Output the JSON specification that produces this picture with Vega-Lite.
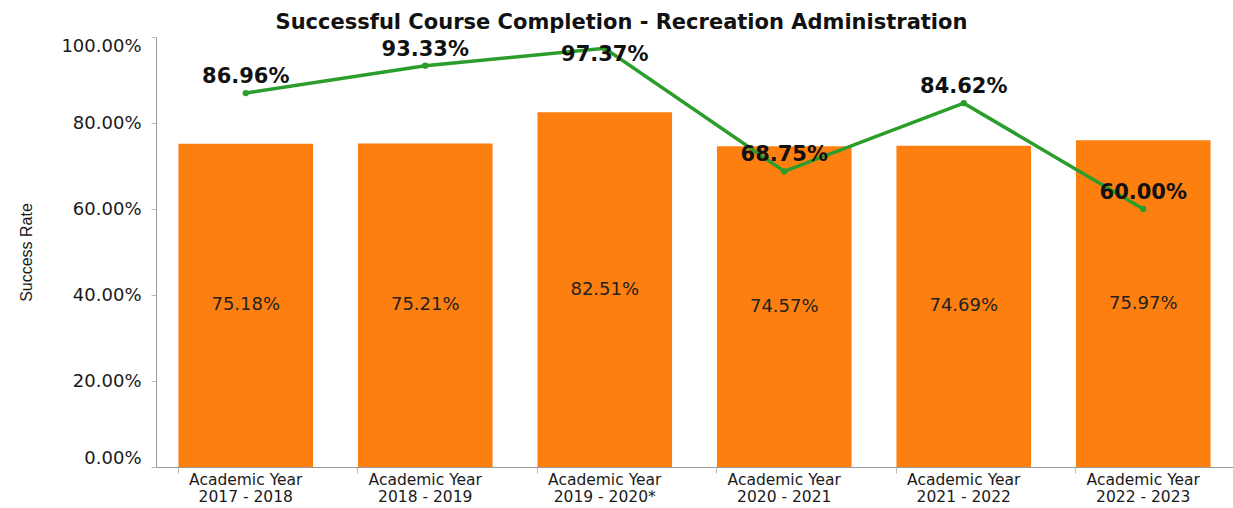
{
  "$schema": "https://vega.github.io/schema/vega-lite/v6.json",
  "autosize": "none",
  "width": 1077,
  "height": 430,
  "padding": {"left": 156, "top": 37, "right": 0, "bottom": 41},
  "background": "white",
  "config": {
    "font": "DejaVu Sans",
    "view": {"stroke": null}
  },
  "title": {
    "text": "Successful Course Completion - Recreation Administration",
    "font": "DejaVu Sans",
    "fontSize": 21,
    "fontWeight": "bold",
    "color": "#111111",
    "anchor": "middle",
    "dx": -73,
    "offset": 4
  },
  "data": {
    "values": [
      {"year": "Academic Year|2017 - 2018", "overall": 0.7518, "program": 0.8696},
      {"year": "Academic Year|2018 - 2019", "overall": 0.7521, "program": 0.9333},
      {"year": "Academic Year|2019 - 2020*", "overall": 0.8251, "program": 0.9737},
      {"year": "Academic Year|2020 - 2021", "overall": 0.7457, "program": 0.6875},
      {"year": "Academic Year|2021 - 2022", "overall": 0.7469, "program": 0.8462},
      {"year": "Academic Year|2022 - 2023", "overall": 0.7597, "program": 0.60}
    ]
  },
  "encoding": {
    "x": {
      "field": "year",
      "type": "nominal",
      "sort": null,
      "scale": {"paddingInner": 0.25, "paddingOuter": 0.125},
      "axis": {
        "title": null,
        "labelAngle": 0,
        "labelExpr": "split(datum.label, '|')",
        "labelFont": "DejaVu Sans",
        "labelFontSize": 15.5,
        "labelColor": "#1a1a1a",
        "labelLineHeight": 17,
        "labelPadding": -1,
        "bandPosition": 0,
        "ticks": true,
        "tickSize": 6,
        "tickColor": "#bbbbbb",
        "domainColor": "#999999",
        "labelBaseline": "top"
      }
    }
  },
  "layer": [
    {
      "mark": {"type": "bar", "color": "#fd7f10"},
      "encoding": {
        "y": {
          "field": "overall",
          "type": "quantitative",
          "scale": {"domain": [0, 1], "nice": false},
          "axis": {
            "title": "Success Rate",
            "titleFont": "Liberation Sans",
            "titleFontWeight": "normal",
            "titleFontSize": 16,
            "titleColor": "#1a1a1a",
            "titleX": -130,
            "titleY": 215,
            "titleAngle": -90,
            "titleAlign": "center",
            "titleBaseline": "middle",
            "values": [0, 0.2, 0.4, 0.6, 0.8, 1],
            "format": ".2%",
            "labelFont": "DejaVu Sans",
            "labelFontSize": 18,
            "labelColor": "#1a1a1a",
            "labelFlush": true,
            "labelPadding": 10,
            "tickSize": 5,
            "tickColor": "#bbbbbb",
            "domainColor": "#999999",
            "grid": false
          }
        }
      }
    },
    {
      "mark": {"type": "text", "fontSize": 18, "color": "#222222", "baseline": "middle"},
      "encoding": {
        "y": {"field": "overall", "type": "quantitative", "stack": "zero", "bandPosition": 0.5},
        "text": {"field": "overall", "type": "quantitative", "format": ".2%"}
      }
    },
    {
      "mark": {"type": "line", "color": "#2a9d2a", "strokeWidth": 3.5},
      "encoding": {
        "y": {"field": "program", "type": "quantitative"}
      }
    },
    {
      "mark": {"type": "point", "filled": true, "color": "#2a9d2a", "size": 40, "opacity": 1},
      "encoding": {
        "y": {"field": "program", "type": "quantitative"}
      }
    },
    {
      "transform": [{"filter": "datum.program < 0.97"}],
      "mark": {"type": "text", "fontSize": 21, "fontWeight": "bold", "color": "#111111", "dy": -16, "baseline": "middle"},
      "encoding": {
        "y": {"field": "program", "type": "quantitative"},
        "text": {"field": "program", "type": "quantitative", "format": ".2%"}
      }
    },
    {
      "transform": [{"filter": "datum.program >= 0.97"}],
      "mark": {"type": "text", "fontSize": 21, "fontWeight": "bold", "color": "#111111", "dy": 7, "baseline": "middle"},
      "encoding": {
        "y": {"field": "program", "type": "quantitative"},
        "text": {"field": "program", "type": "quantitative", "format": ".2%"}
      }
    }
  ]
}
